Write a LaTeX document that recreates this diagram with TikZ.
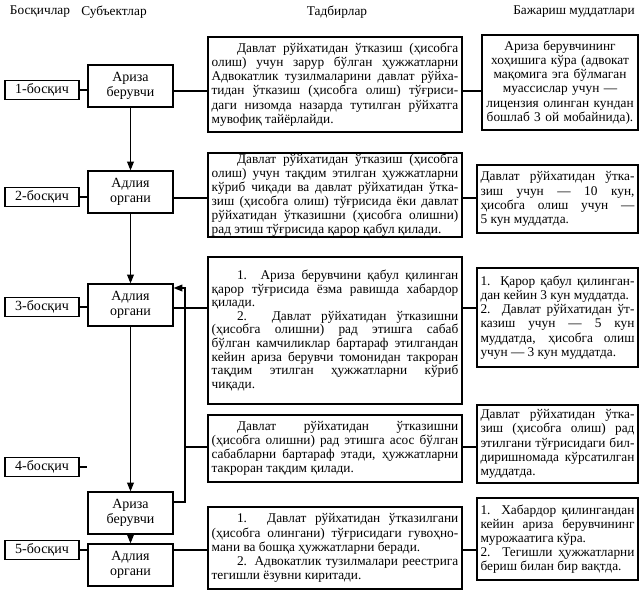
\documentclass[tikz,border=0pt]{standalone}
\usepackage{fontspec}
\setmainfont{Liberation Serif}
\usetikzlibrary{arrows.meta}
\newcommand\jl[1]{\hbox to\hsize{#1}}
\newcommand\jlast[1]{\hbox to\hsize{#1\hfil}}
\newcommand\jin[1]{\hbox to\hsize{\hskip1.9em #1}}
\newcommand\jinlast[1]{\hbox to\hsize{\hskip1.9em #1\hfil}}
\newcommand\tbox[3]{\vbox{\hsize=#1\baselineskip=#2\lineskiplimit=-5pt #3}}
\tikzset{
 base/.style={font=\fontsize{10}{10.6}\selectfont},
 box/.style={base, draw, line width=0.9pt, inner sep=0pt, anchor=center},
 stagebox/.style={box, minimum width=55.5pt, minimum height=14.25pt, font=\fontsize{10.5}{11.5}\selectfont},
 subjbox/.style={box, minimum width=63.75pt, minimum height=31.5pt, align=center, font=\fontsize{10.5}{11.5}\selectfont},
 actbox/.style={box, minimum width=190.5pt},
 deadbox/.style={box, minimum width=120.75pt},
 conn/.style={line width=0.9pt},
 arr/.style={conn, -{Triangle[length=6.5pt,width=5pt]}},
 hdr/.style={base, inner sep=0pt},
}
\begin{document}
\begin{tikzpicture}[x=0.75pt,y=-0.75pt]
\useasboundingbox (0,0) rectangle (643,593);
% headers
\node[hdr] (h1) at (40,12) {Босқичлар};
\node[hdr] (h2) at (114,12) {Субъектлар};
\node[hdr] (h3) at (337,12) {Тадбирлар};
\node[hdr] (h4) at (574,12) {Бажариш муддатлари};
% stages
\node[stagebox] (st1) at (42,90) {1-босқич};
\node[stagebox] (st2) at (42,197) {2-босқич};
\node[stagebox] (st3) at (42,307) {3-босқич};
\node[stagebox] (st4) at (42,467) {4-босқич};
\node[stagebox] (st5) at (42,550) {5-босқич};
% subjects
\node[subjbox] (s1) at (130.5,86) {Ариза\\берувчи};
\node[subjbox] (s2) at (130.5,192) {Адлия\\органи};
\node[subjbox] (s3) at (130.5,305) {Адлия\\органи};
\node[subjbox] (s4) at (130.5,513) {Ариза\\берувчи};
\node[subjbox] (s5) at (130.5,565) {Адлия\\органи};
% activities
\node[actbox, minimum height=71.25pt] (a1) at (335,84.5) {\tbox{185pt}{10.6pt}{%
\jin{Давлат рўйхатидан ўтказиш (ҳисобга}
\jl{олиш) учун зарур бўлган ҳужжатларни}
\jl{Адвокатлик тузилмаларини давлат рўйха-}
\jl{тидан ўтказиш (ҳисобга олиш) тўғриси-}
\jl{даги низомда назарда тутилган рўйхатга}
\jlast{мувофиқ тайёрлайди.}}};
\node[actbox, minimum height=63pt] (a2) at (335,195) {\tbox{185pt}{10.6pt}{%
\jin{Давлат рўйхатидан ўтказиш (ҳисобга}
\jl{олиш) учун тақдим этилган ҳужжатларни}
\jl{кўриб чиқади ва давлат рўйхатидан ўтка-}
\jl{зиш (ҳисобга олиш) тўғрисида ёки давлат}
\jl{рўйхатидан ўтказишни (ҳисобга олишни)}
\jlast{рад этиш тўғрисида қарор қабул қилади.}}};
\node[actbox, minimum height=110.25pt] (a3) at (335,330.5) {\tbox{185pt}{10.2pt}{%
\jin{1. Ариза берувчини қабул қилинган}
\jl{қарор тўғрисида ёзма равишда хабардор}
\jlast{қилади.}
\jin{2. Давлат рўйхатидан ўтказишни}
\jl{(ҳисобга олишни) рад этишга сабаб}
\jl{бўлган камчиликлар бартараф этилгандан}
\jl{кейин ариза берувчи томонидан такроран}
\jl{тақдим этилган ҳужжатларни кўриб}
\jlast{чиқади.}}};
\node[actbox, minimum height=50.25pt] (a4) at (335,448.5) {\tbox{185pt}{10.6pt}{%
\jin{Давлат рўйхатидан ўтказишни}
\jl{(ҳисобга олишни) рад этишга асос бўлган}
\jl{сабабларни бартараф этади, ҳужжатларни}
\jlast{такроран тақдим қилади.}}};
\node[actbox, minimum height=61.5pt] (a5) at (335,548) {\tbox{185pt}{10.6pt}{%
\jin{1. Давлат рўйхатидан ўтказилгани}
\jl{(ҳисобга олингани) тўғрисидаги гувоҳно-}
\jlast{мани ва бошқа ҳужжатларни беради.}
\jin{2. Адвокатлик тузилмалари реестрига}
\jlast{тегишли ёзувни киритади.}}};
% deadlines
\node[box, minimum width=117pt, minimum height=71.25pt, align=center, text width=112pt] (d1) at (560,82.5) {Ариза берувчининг\\хоҳишига кўра (адвокат\\мақомига эга бўлмаган\\муассислар учун —\\лицензия олинган кундан\\бошлаб 3 ой мобайнида).};
\node[deadbox, minimum height=51pt] (d2) at (557.5,199) {\tbox{115.5pt}{10.6pt}{%
\jl{Давлат рўйхатидан ўтка-}
\jl{зиш учун — 10 кун,}
\jl{ҳисобга олиш учун —}
\jlast{5 кун муддатда.}}};
\node[deadbox, minimum height=74.25pt] (d3) at (557.5,317.5) {\tbox{115.5pt}{10.6pt}{%
\jl{1. Қарор қабул қилинган-}
\jlast{дан кейин 3 кун муддатда.}
\jl{2. Давлат рўйхатидан ўт-}
\jl{казиш учун — 5 кун}
\jl{муддатда, ҳисобга олиш}
\jlast{учун — 3 кун муддатда.}}};
\node[deadbox, minimum height=58.5pt] (d4) at (557.5,444) {\tbox{115.5pt}{10.6pt}{%
\jl{Давлат рўйхатидан ўтка-}
\jl{зиш (ҳисобга олиш) рад}
\jl{этилгани тўғрисидаги бил-}
\jl{диришномада кўрсатилган}
\jlast{муддатда.}}};
\node[deadbox, minimum height=61.5pt] (d5) at (557.5,539) {\tbox{115.5pt}{10.6pt}{%
\jl{1. Хабардор қилингандан}
\jl{кейин ариза берувчининг}
\jlast{мурожаатига кўра.}
\jl{2. Тегишли ҳужжатларни}
\jlast{бериш билан бир вақтда.}}};
% row levels
\coordinate (r1) at (0,91);
\coordinate (r2) at (0,198);
\coordinate (r3) at (0,308);
\coordinate (r4) at (0,447);
\coordinate (r5) at (0,550);
\coordinate (fbx) at (185,0);
\coordinate (fbt) at (0,288);
\coordinate (fbb) at (0,502);
% stage connectors
\draw[conn] (st1.east) -- (s1.west |- st1.east);
\draw[conn] (st2.east) -- (s2.west |- st2.east);
\draw[conn] (st3.east) -- (s3.west |- st3.east);
\draw[conn] (st4.east) -- (s4.west |- st4.east);
\draw[conn] (st5.east) -- (s5.west |- st5.east);
% subject to activity to deadline
\draw[conn] (s1.east |- r1) -- (a1.west |- r1);
\draw[conn] (a1.east |- r1) -- (d1.west |- r1);
\draw[conn] (s2.east |- r2) -- (a2.west |- r2);
\draw[conn] (a2.east |- r2) -- (d2.west |- r2);
\draw[conn] (s3.east |- r3) -- (a3.west |- r3);
\draw[conn] (a3.east |- r3) -- (d3.west |- r3);
\draw[conn] (fbx |- r4) -- (a4.west |- r4);
\draw[conn] (a4.east |- r4) -- (d4.west |- r4);
\draw[conn] (s5.east |- r5) -- (a5.west |- r5);
\draw[conn] (a5.east |- r5) -- (d5.west |- r5);
% vertical flow
\draw[arr] (s1) -- (s2);
\draw[arr] (s2) -- (s3);
\draw[arr] (s3) -- (s4);
\draw[arr] (s4) -- (s5);
% feedback
\draw[arr] (s4.east |- fbb) -- (fbx |- fbb) -- (fbx |- fbt) -- (s3.east |- fbt);
\end{tikzpicture}
\end{document}
